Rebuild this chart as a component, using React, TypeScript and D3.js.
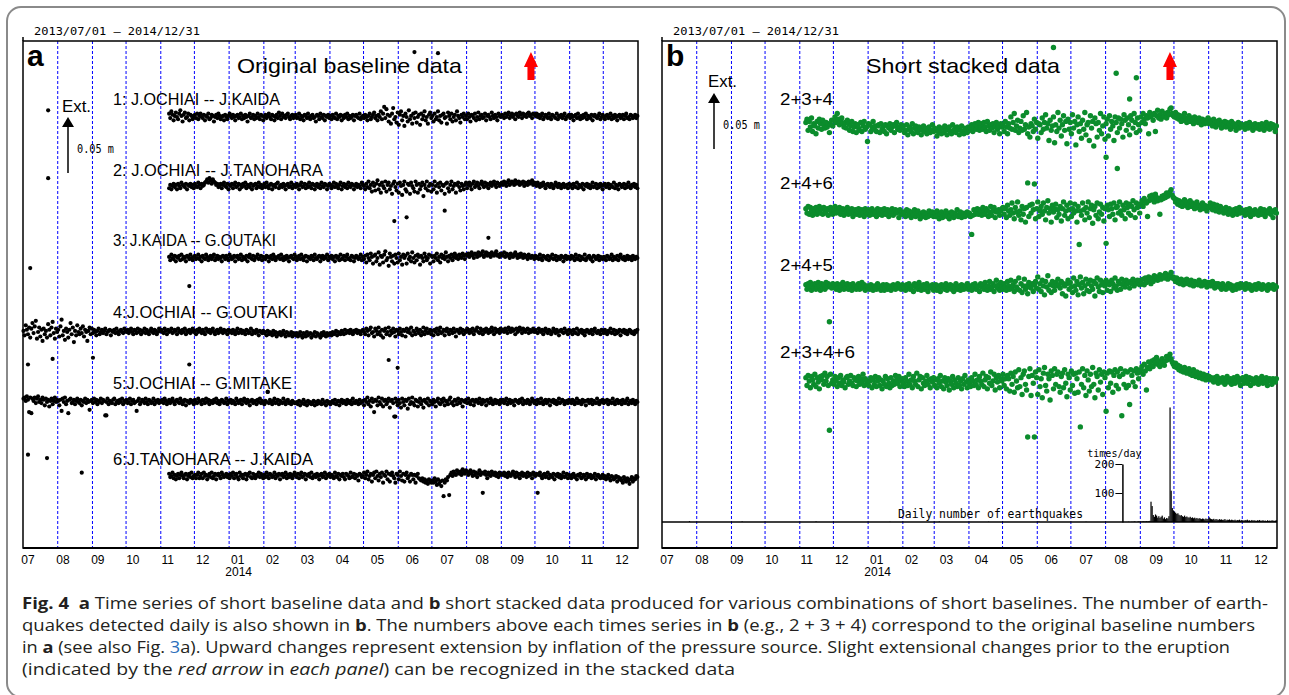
import React, { useEffect, useRef } from 'react';
import * as d3 from 'd3';

const parse = d3.utcParse('%Y-%m-%d');

// time span of both panels and the eruption day (red arrows)
const periodStart = '2013-07-01';
const periodEnd = '2015-01-01';
const eruptionDay = '2014-09-27';

const monthLabels = ['07', '08', '09', '10', '11', '12', '01', '02', '03', '04', '05', '06', '07', '08', '09', '10', '11', '12'];
const yearLabel = '2014';

// panel a: original baselines, daily values in mm, one row per calendar month
const baselineNames = [
  '1: J.OCHIAI -- J.KAIDA',
  '2: J.OCHIAI -- J.TANOHARA',
  '3: J.KAIDA -- G.OUTAKI',
  '4:J.OCHIAI -- G.OUTAKI',
  '5:J.OCHIAI -- G.MITAKE',
  '6:J.TANOHARA -- J.KAIDA',
];
const baselineStarts = ['2013-11-08', '2013-11-08', '2013-11-08', '2013-07-01', '2013-07-01', '2013-11-08'];

const s1 = [
  [3,-1,5,2,-3,1,4,0,-2,3,6,1,-4,2,4,-1,0,3,-3,2,1,-2,0],
  [2,-1,3,-2,1,3,0,-1,2,-3,1,0,3,-2,-1,2,1,-4,0,2,-1,3,1,-2,0,1,-3,2,0,-2,1],
  [3,1,-1,2,0,-3,1,2,-1,0,3,-2,1,-1,2,0,-4,1,3,-1,0,2,-2,1,-1,3,0,-2,2,1,-3],
  [0,2,-1,1,3,0,-2,2,1,-3,0,2,-1,4,1,-2,3,0,1,-1,2,3,0,-2,1,2,-1,0],
  [2,-1,0,3,-2,1,0,-3,2,1,-1,3,0,-2,1,2,-1,0,-4,2,1,-2,3,0,-1,2,-3,1,0,2,-1],
  [1,-2,2,0,-1,3,-2,1,0,2,-3,1,-1,2,0,3,-2,1,-1,0,2,-3,1,2,0,-1,3,-2,0,1],
  [-1,2,0,-3,1,3,-2,0,2,4,-1,1,-3,2,0,5,-2,3,9,-1,7,2,-4,1,-6,3,8,-2,0,-5,4],
  [-7,2,5,-3,1,-8,3,0,-4,6,-2,1,-6,3,-1,4,-5,0,2,-7,3,-2,1,5,-3,0,-6,2,4,-1],
  [1,-4,3,-2,0,5,-3,1,-5,2,3,-1,0,-6,4,1,-2,3,-4,0,2,-3,5,1,-1,-5,2,0,3,-2,1],
  [-2,3,0,-4,2,1,-1,3,-3,0,4,-2,1,2,-1,0,3,-3,1,2,0,-2,4,1,-1,2,0,-3,3,1,0],
  [2,1,-1,3,0,2,4,-1,1,3,0,2,-2,3,1,0,4,2,-1,3,1,2,0,3,4,1,2,-1,3,2],
  [1,3,0,2,-1,1,3,-2,0,2,1,-1,3,0,-2,2,1,0,-1,3,-2,1,0,2,-1,1,3,-2,0,1,2],
  [-1,2,0,-3,1,2,-1,3,0,-2,1,-1,2,0,3,-2,1,0,-1,2,-3,1,2,0,-1,1,3,-2,0,2],
  [0,-2,1,2,-1,0,3,-2,1,-1,2,0,-3,1,2,-1,0,2,-2,1,3,-1,0,-2,2,1,-1,0,2,-1,1],
];
const s2 = [
  [-2,1,-3,0,2,-1,1,-3,2,0,-2,3,1,0,-1,2,-3,1,0,2,-1,1,-2],
  [2,0,-1,3,1,-2,2,0,1,3,4,6,3,7,5,2,6,4,3,1,2,-1,0,2,-2,1,3,0,-1,2,-3],
  [1,0,2,-2,1,3,-1,0,2,-3,1,-1,2,0,3,-2,1,0,-1,2,-3,0,1,2,-2,0,3,-1,1,-2,0],
  [2,-1,3,0,-2,1,2,-3,0,1,-1,2,3,-2,0,1,-1,2,0,-3,1,2,-1,0,3,-2,1,0],
  [-1,2,0,-3,1,3,-1,0,2,-2,1,-1,3,0,-2,2,1,-3,0,2,-1,1,-2,3,0,-1,2,1,-3,0,2],
  [1,-2,0,3,-1,2,0,-2,1,3,-3,0,2,-1,1,-2,3,0,-1,2,1,-3,0,2,-1,1,0,-2,3,1],
  [0,-3,2,-1,4,-2,1,-5,3,0,-4,2,5,-3,1,-6,3,0,-2,4,-5,1,3,-3,0,-7,2,4,-1,-4,2],
  [-6,3,0,-8,1,4,-3,-5,2,1,-7,3,0,-2,-5,4,1,-6,2,-3,0,3,-9,1,-2,4,-4,0,2,-5],
  [1,-3,4,0,-6,2,-1,3,-4,1,0,-7,2,3,-2,-5,1,4,-3,0,2,-6,1,3,-1,-4,2,0,-3,1,3],
  [-2,1,3,0,-3,2,4,-1,1,3,0,-2,2,4,1,-1,3,0,2,-2,1,3,0,2,4,1,-1,3,2,0,2],
  [3,1,4,2,0,3,5,1,2,4,3,1,5,2,3,4,1,3,2,4,0,3,2,1,4,2,3,5,1,3],
  [2,0,3,1,-1,2,0,3,1,-2,1,2,0,-1,2,1,-2,0,3,1,-1,2,0,-2,1,2,-1,0,1,-2,2],
  [0,1,-2,2,0,-1,3,-2,1,0,-1,2,-3,1,0,2,-1,1,-2,0,3,-1,0,2,-2,1,-1,2,0,-3],
  [1,2,-1,0,2,-2,1,0,-1,3,-2,1,0,-3,2,1,-1,0,2,-2,1,-1,3,0,-2,1,0,2,-1,1,-2],
];
const s3 = [
  [1,-2,3,0,-1,2,-3,1,0,2,-2,3,-1,1,0,-3,2,1,-1,3,0,-2,1],
  [2,-1,0,3,-1,1,-3,2,0,-1,3,1,-2,0,2,-1,1,3,-2,0,2,-1,1,0,-3,2,1,-1,2,0,-2],
  [3,1,-1,0,2,-3,1,2,-1,0,3,-2,1,0,-1,2,-3,1,3,0,-1,2,-2,0,1,3,-1,0,2,-2,1],
  [0,-1,2,1,-3,0,2,-1,3,1,-2,0,1,2,-1,3,0,-2,1,-1,2,0,-3,1,2,0,-1,3],
  [1,-2,0,2,-1,3,0,-2,1,2,-3,1,0,-1,2,1,-2,3,0,-1,1,2,-3,0,2,-1,1,0,3,-2,1],
  [0,2,-1,1,-3,2,0,1,-2,3,-1,0,2,-2,1,3,-1,0,-2,2,1,-3,0,2,1,-1,0,3,-2,1],
  [-1,2,-4,3,0,-2,4,1,-5,2,3,-3,0,5,-6,2,1,-4,3,6,-2,0,-7,4,1,-3,2,-5,3,0,-4],
  [4,-2,1,-6,3,0,2,-5,4,-1,1,-3,5,0,-4,2,-2,3,1,-6,2,0,-3,4,1,-2,0,3,-5,2],
  [1,-3,2,0,4,-2,1,-4,3,0,2,-1,5,1,-3,2,0,3,-2,1,4,0,2,-1,3,1,0,4,2,-1,3],
  [2,4,1,3,5,2,0,4,3,1,5,2,4,3,6,1,3,5,2,4,3,1,5,3,2,4,6,2,3,1,4],
  [3,2,5,1,4,2,3,0,4,2,1,3,5,2,0,3,1,4,2,0,3,1,2,-1,3,1,0,2,1,-1],
  [2,0,1,-1,3,0,-2,2,1,0,-1,2,-2,1,0,3,-1,0,2,-2,1,0,-1,2,1,-3,0,2,-1,1,0],
  [-1,2,0,1,-2,3,0,-1,2,-2,1,0,-1,3,-2,0,1,2,-1,0,-3,2,1,-1,0,2,-2,1,0,-1],
  [1,0,-2,2,1,-1,0,3,-2,1,0,-1,2,-2,1,3,0,-1,1,-2,0,2,-1,1,0,-2,2,0,-1,1,0],
];
const s4 = [
  [1,-3,6,2,-2,4,-5,3,8,-1,5,10,-6,0,4,-4,2,-8,3,-2,1,-5,7,2,-3,4,9,-1,-6,3,0],
  [2,-4,5,11,-3,1,-7,3,0,-5,2,8,-2,4,-9,1,-3,6,0,-2,3,-1,5,-4,2,0,-8,1,4,-2,3],
  [-1,2,0,-3,1,3,-2,0,2,-1,1,3,-2,0,1,2,-3,1,0,2,-1,3,0,-2,1,2,0,-1,3,1],
  [0,2,-1,1,3,0,-2,2,1,-1,3,0,2,-2,1,0,3,-1,2,0,-2,1,3,0,-1,2,1,-2,0,3,1],
  [2,0,-1,3,1,-2,2,0,1,3,-1,0,2,1,-2,3,0,1,-1,2,0,3,-2,1,0,2,-1,1,3,0],
  [1,-2,2,0,3,1,-1,2,0,-2,3,1,0,2,-1,1,3,0,-2,1,2,-1,0,3,1,-1,2,0,1,-2,2],
  [0,1,-1,2,0,-2,1,3,-1,0,2,-1,1,0,-2,2,1,-1,0,3,-2,1,0,-1,2,0,-3,1,0,-1,1],
  [-1,0,-3,1,-2,0,-1,-3,1,-2,0,-4,-1,-2,0,-3,-1,1,-2,-4,0,-1,-3,-2,0,-4,-1,-2],
  [-3,-1,-4,-2,0,-3,-5,-1,-2,-4,0,-3,-2,-1,-5,-2,-3,0,-4,-1,-2,-3,-5,-1,-3,0,-2,-4,-1,-3,-2],
  [-1,-3,0,-2,-1,1,-3,0,-1,-2,1,0,-2,2,-1,0,1,-1,2,0,-2,1,0,2,-1,1,0,-2,1,2],
  [0,-2,3,1,-3,2,4,-1,0,-4,3,1,-2,4,0,-3,2,-5,1,3,-2,0,4,-3,1,-1,3,0,-4,2,1],
  [-2,3,0,-3,2,1,-4,3,0,2,-1,4,-3,1,0,-2,3,1,-1,2,-3,0,4,-2,1,3,-1,0,2,-2],
  [1,-3,2,0,3,-2,1,4,-1,0,2,-3,1,3,0,-2,2,1,-1,3,0,-4,2,1,-1,3,0,2,-2,1,0],
  [3,1,-1,2,0,3,-2,1,2,4,0,-1,3,1,-2,2,0,3,1,-1,2,0,4,1,-2,3,0,1,2,-1,3],
  [1,2,0,3,1,-1,4,2,0,3,1,2,-2,3,0,1,4,2,-1,3,1,0,2,3,-1,2,0,1,3,0],
  [2,0,-1,3,1,0,2,-2,1,3,0,-1,2,1,-2,0,3,1,-1,2,0,-3,1,2,0,-1,3,0,1,-2,2],
  [0,1,-2,2,0,-1,3,-2,1,0,2,-1,1,-3,0,2,1,-1,0,2,-2,1,3,0,-1,1,0,-2,2,1],
  [-1,2,0,-2,1,0,3,-1,0,2,-2,1,-1,0,2,-3,1,0,2,-1,1,-2,0,2,1,-1,0,-2,1,0,2],
];
const s5 = [
  [3,4,1,5,2,-9,4,-10,3,1,4,-1,3,5,0,2,-1,4,2,-3,3,0,2,-4,1,3,-2,1,4,0,2],
  [1,-3,2,-8,3,0,4,-2,1,-10,2,3,-1,0,2,-2,1,3,0,-1,2,-3,1,0,3,-1,2,0,-7,1,2],
  [-1,3,0,2,-2,1,0,3,-1,2,1,-12,0,3,-2,1,0,-1,2,3,-2,0,1,-1,2,0,3,-2,1,0],
  [2,-1,0,3,-2,1,2,-1,0,-8,1,3,-2,0,2,1,-1,3,0,-2,2,1,-1,0,3,-2,1,0,2,-1,1],
  [0,2,-1,3,1,-2,0,2,-1,1,3,0,-2,1,2,0,-1,3,1,-2,0,2,-3,1,0,-1,2,0,1,-2],
  [2,0,-1,3,1,0,-2,2,1,-1,3,0,2,-2,1,0,-1,2,0,3,-1,1,-2,0,2,1,-1,0,3,-2,1],
  [0,2,-1,1,0,-2,3,1,-1,0,2,-2,1,3,0,-1,2,0,-3,1,2,-1,0,1,-2,2,0,3,-1,1,0],
  [-2,1,0,9,-1,2,0,-2,1,3,-1,0,2,-2,1,0,-1,3,0,-2,1,2,-1,0,-2,1,0,-1],
  [-1,0,-2,1,-3,0,-1,2,-2,0,-3,1,-1,0,-2,-1,1,-3,0,-2,1,-1,0,-2,2,-1,0,-3,1,-1,0],
  [-2,0,1,-1,2,-2,0,1,-3,0,2,-1,1,0,-2,2,0,-1,1,-2,3,0,-1,1,0,-2,2,-1,0,1],
  [-3,2,0,4,-2,1,-4,3,0,-9,2,1,-3,4,0,-2,3,-4,1,2,-2,0,3,-5,1,2,-1,-13,3,0,-3],
  [2,-1,-5,3,0,-3,2,1,-6,3,-2,0,4,-1,-3,2,1,-4,0,3,-2,1,-5,2,0,-1,3,-3,1,0],
  [-2,2,0,-4,1,3,-1,-2,2,0,3,-3,1,0,-2,2,4,-1,0,-3,2,1,-2,3,0,-1,2,-4,1,0,2],
  [-1,3,0,-2,1,2,-3,0,2,1,-1,3,0,-2,2,0,1,-3,2,0,-1,3,1,-2,0,2,-1,1,0,-2,2],
  [0,2,-1,1,3,-2,0,2,-1,1,0,-3,2,1,0,-1,2,0,3,-2,1,0,-1,2,1,-2,0,3,1,-1],
  [1,-2,2,0,-1,3,0,-2,1,2,-1,0,2,-3,1,0,2,-1,1,-2,0,3,-1,0,2,1,-2,0,1,-1,2],
  [0,-1,2,1,-2,0,3,-1,1,0,-2,2,0,1,-3,1,2,-1,0,2,-2,1,0,-1,3,0,-2,1,0,2],
  [-1,1,0,2,-2,1,0,-1,3,0,-2,1,2,-1,0,1,-2,2,0,-1,1,3,-2,0,1,-1,2,0,-2,1,0],
];
const s6 = [
  [2,-1,0,3,-2,1,-3,0,2,-2,1,3,0,-2,1,2,-3,0,2,-1,3,-2,0],
  [1,-2,1,3,-2,0,2,-2,3,0,1,-3,0,2,-1,3,-2,0,2,-3,1,2,0,-2,3,1,-1,0,2,-1,1],
  [-2,2,0,3,-2,1,2,-1,-3,3,0,1,-2,1,2,-3,0,2,3,-1,-2,2,0,-2,1,0,3,-1,2,0,-2],
  [1,-1,3,0,-2,2,1,-1,0,3,-2,1,0,2,-3,1,2,-1,0,3,-2,1,-1,2,0,-2,1,3],
  [0,-1,2,-2,1,3,-1,0,2,-3,1,0,2,-1,3,-2,0,1,-1,2,0,-3,1,2,-1,0,3,-2,1,0,2],
  [-1,1,0,-2,3,0,-1,2,-3,1,0,2,-1,-3,2,1,0,-2,3,-1,0,2,-2,1,0,-4,2,1,-1,0],
  [3,-2,1,4,-3,0,2,-5,1,3,-2,4,0,-4,2,-1,3,-6,1,0,4,-3,2,-5,1,3,0,-2,-6,2,1],
  [-3,4,0,-4,2,-5,1,3,-2,0,-5,2,1,-3,1,-6,0,2,-2,-3,-4,-2,-5,-3,-6,-4,-7,-3,-5,-6],
  [-4,-6,-2,-5,-8,-3,-7,-5,-9,-4,-18,-6,-3,-4,-1,-17,1,3,0,4,2,1,5,3,2,4,1,6,3,2,5],
  [4,1,3,5,2,0,4,1,3,-1,2,5,1,3,-15,2,4,1,-2,3,1,0,4,2,1,3,0,2,-1,3,1],
  [2,1,3,0,2,-1,3,1,0,2,4,1,-1,3,0,2,-2,1,3,0,2,1,-1,3,0,2,1,-2,3,1],
  [0,2,-15,1,3,0,-2,1,2,-1,0,3,-2,1,0,-1,2,-3,1,0,2,-1,1,-2,0,3,-1,0,2,-2,1],
  [0,-2,1,2,-1,0,-3,1,0,2,-2,-1,1,0,-3,2,-1,0,1,-2,0,-1,2,-3,0,1,-1,-2,0,1],
  [-2,0,-3,-1,1,-2,-4,0,-1,-3,-2,0,-5,-1,-3,-2,-4,-6,-1,-3,-5,-2,-4,-7,-3,-1,-5,-2,-3,0,-1],
];
const baselineValues = [s1, s2, s3, s4, s5, s6];
// isolated days outside the main run: [date, mm]
const baselineExtra: [string, number][][] = [
  [['2013-07-23', 6], ['2014-06-15', 58], ['2014-07-06', 57]],
  [['2013-07-23', 7], ['2014-06-08', -28], ['2014-07-12', -22]],
  [['2013-07-07', -9], ['2014-05-28', 33], ['2014-08-20', 18]],
  [['2013-07-05', -29], ['2013-07-27', -24], ['2013-09-01', -23], ['2013-11-26', -29], ['2013-11-26', 41], ['2014-05-23', -25], ['2014-05-31', -32]],
  [['2013-09-13', -12], ['2014-02-04', 9], ['2014-05-29', -13]],
  [['2013-07-05', 19], ['2013-07-22', 16], ['2013-08-22', 3]],
];

// panel b: stacked series, daily mm, one row per month
const stackNames = ['2+3+4', '2+4+6', '2+4+5', '2+3+4+6'];
const stackStart = '2013-11-06';
const b1 = [
  [4,7,-3,5,0,8,-4,3,1,-6,5,-1,7,3,-2,6,2,-1,4,0,3,-5,2,6,1],
  [6,9,4,12,7,2,5,8,3,0,4,-1,6,3,-3,1,5,-4,0,3,-5,2,-1,-3,4,-4,1,5,-2,0,-13],
  [3,2,-4,0,5,-2,1,-4,1,2,-5,3,-2,0,-4,2,-6,1,-1,3,-3,0,2,-5,1,4,-2,0,-3,2,-1],
  [1,-5,-3,2,-7,-2,0,-4,3,-6,-1,1,-3,-5,0,-2,-7,-3,1,-4,-1,-6,-2,0,-5,-3,2,-4],
  [-1,-3,-8,-4,0,-2,-6,-1,-5,1,-3,-7,-2,0,-4,-6,2,-3,-1,-5,0,-2,-7,-3,1,-4,-6,-1,-2,-5,0],
  [-3,-1,2,-4,0,3,-2,1,4,-3,0,3,-2,4,0,-4,5,1,-3,2,-1,3,-5,0,4,-2,1,-6,3,0],
  [2,-4,5,0,-6,3,-1,9,-2,4,12,-3,1,6,-5,-1,5,-3,10,-2,2,13,-6,0,-9,3,1,-4,7,-2,4],
  [-10,3,2,-5,8,-2,4,11,-1,3,-12,6,-3,1,9,-14,2,-4,13,-1,6,-8,2,10,-3,5,-15,7,-2,4],
  [-6,11,-1,5,-16,2,9,-4,3,-10,6,-2,13,-7,2,4,-12,10,-1,5,-17,8,3,-9,4,-3,12,-6,1,9,-11],
  [3,7,-8,10,-2,5,1,-12,9,4,-5,8,-1,7,3,-9,11,6,-3,8,2,-7,10,6,-1,12,4,-5,8,2,-3],
  [9,4,12,7,3,10,8,-6,13,9,11,6,12,-4,10,15,8,11,7,14,9,10,12,8,13,11,16,17,12,10],
  [9,13,8,11,7,10,5,9,6,12,8,4,7,10,5,8,6,3,9,5,7,4,8,6,2,7,5,3,6,4,8],
  [3,6,4,1,7,3,0,5,2,6,3,-1,4,2,5,0,4,1,3,-2,5,1,3,0,-3,2,4,-1,3,1],
  [2,0,-2,3,1,-1,4,0,2,-3,1,3,-1,0,2,-2,1,3,0,-3,2,4,-1,1,-2,3,0,2,-1,-4,1],
];
const b2 = [
  [3,-1,5,-2,4,1,-3,3,0,4,-2,1,5,-1,3,-2,4,1,-1,3,-3,2,4,0,-2],
  [2,5,-1,3,0,4,-2,1,3,-3,2,0,4,-2,1,-1,3,-4,0,2,-2,1,3,-3,0,2,-1,-4,3,0,-2],
  [2,-3,0,3,-2,1,-1,-4,3,0,-2,2,-3,0,3,-2,-1,2,-4,1,-2,3,-3,0,2,-1,1,-5,2,-2,0],
  [-2,0,-4,2,-3,1,-2,-5,0,-3,2,-4,-1,1,-3,-6,-1,-4,0,-3,-5,-1,-4,1,-3,-2,0,-4],
  [-1,-4,1,-3,-6,-2,0,-5,-2,-3,1,-4,-1,-6,-3,0,-2,-5,-1,-3,2,-4,-2,0,-5,-3,-1,-4,-2,0,-3],
  [-1,-4,-20,-3,2,-2,0,3,-2,2,0,-3,4,0,-2,3,1,-4,0,5,-3,1,4,-5,0,1,2,-3,1,3],
  [4,-2,3,-5,6,1,-3,2,8,-1,-6,4,0,9,-3,1,-7,5,-2,3,-9,4,26,-4,6,-1,7,2,25,-6,3],
  [9,-4,1,5,-2,8,1,-7,4,10,-1,3,-9,6,0,3,7,-5,2,-2,5,-8,3,9,-3,1,6,-6,2,8],
  [-4,3,-1,7,1,-9,5,-29,1,-3,8,2,-7,4,-1,9,-5,3,6,-10,2,5,-3,8,-6,0,7,-2,4,-8,3],
  [-28,6,2,-4,7,3,-2,8,-7,4,5,-1,9,1,-3,6,2,-6,8,4,-1,7,-3,5,10,2,-5,8,4,6,-1],
  [7,10,5,12,9,8,-4,10,14,11,15,12,9,16,13,10,12,-2,11,14,12,15,13,17,14,16,18,20,15,13],
  [12,9,11,7,10,6,9,5,8,11,6,9,4,7,10,5,8,6,3,7,9,4,6,2,5,8,3,6,4,1,5],
  [4,8,5,2,7,4,1,6,3,0,5,2,3,-1,2,4,1,-2,3,0,1,-3,2,0,3,-2,1,4,-1,2],
  [1,-1,-3,2,0,-2,3,-4,0,1,-2,2,-1,0,-3,1,3,-2,0,2,-4,1,-1,0,3,-2,1,-5,0,2,-1],
];
const b3 = [
  [2,-2,3,0,4,-3,1,-1,3,-2,0,4,1,-3,3,-1,2,-2,4,0,3,-31,1,-1,3],
  [0,2,-2,3,-1,-3,2,0,4,-2,1,-1,3,-2,0,2,-3,3,0,1,-2,0,3,-2,1,4,-1,2,-3,0,1],
  [-1,-2,2,0,-3,1,-1,-2,3,0,1,-3,0,2,-3,-1,2,-2,0,1,-3,-1,2,0,-2,1,3,-1,0,-2,2],
  [1,-1,-3,2,0,3,-2,0,1,-4,3,0,2,-2,4,0,-3,1,2,-2,0,3,-4,1,0,-1,2,-3],
  [0,2,-3,1,-1,-4,2,0,1,-2,3,-3,0,-1,2,-2,1,-4,0,3,-2,-1,1,-3,2,0,-2,1,-1,3,-2],
  [1,-1,-3,2,0,3,-2,0,1,-4,3,0,2,-2,4,0,-3,1,5,-2,0,3,-4,1,6,-1,2,-3,4,0],
  [-2,3,0,-3,5,1,-2,6,-1,2,-4,5,0,-2,8,-3,3,-5,1,7,-2,1,-6,4,0,-1,3,-4,2,5,-1],
  [9,-2,3,-4,6,1,-7,5,0,10,-3,2,-5,5,1,-3,4,1,7,2,-1,5,-6,3,1,-8,3,6,-2,4],
  [0,-5,8,1,-3,5,-7,2,9,-1,4,-6,1,7,-3,3,-4,6,1,-2,5,-8,3,8,0,-4,6,2,-5,4,1],
  [6,-3,4,2,-4,6,3,-1,8,1,-3,5,3,-2,7,2,5,0,6,3,4,-1,5,3,7,1,5,3,6,4,2],
  [6,3,7,2,8,4,6,9,7,3,8,5,10,7,9,6,8,11,7,9,10,8,12,9,7,10,11,13,8,9],
  [7,5,8,4,6,3,7,5,2,6,4,7,3,5,2,6,4,1,5,3,4,2,6,3,1,4,2,5,3,0,4],
  [2,4,1,5,2,-1,3,1,3,0,2,-2,3,0,1,-2,0,3,-1,2,0,-3,1,0,-2,2,1,-1,3,0],
  [2,0,-2,3,0,-1,2,-1,-3,1,0,2,-2,1,3,-1,0,-2,2,1,-1,0,-3,2,1,-1,0,2,-2,1,0],
];
const b4 = [
  [3,-4,5,0,-6,4,1,-3,6,-5,3,-1,-7,4,1,5,-3,7,0,4,-4,-44,6,-2,1],
  [-3,4,0,-5,3,-2,5,-4,1,-1,-6,3,4,-3,0,5,-2,-4,3,1,-5,0,4,-3,2,-1,6,-4,2,0,-3],
  [-4,0,3,-6,1,-3,4,-5,0,3,-4,1,-7,0,-3,4,-5,2,-2,-6,3,-4,0,-3,5,1,-2,4,-5,0,2],
  [-2,-5,3,0,-4,6,-3,1,-6,4,0,-3,7,-5,1,4,-7,3,-2,-4,0,5,-3,1,-6,2,-1,3],
  [-4,1,-6,2,-2,5,-5,0,-7,3,-1,-4,2,-8,0,-3,4,-6,1,-2,-5,3,-4,0,-7,2,-3,5,-1,-6,1],
  [-2,-5,3,0,-4,6,-3,1,-6,4,0,-3,7,-5,1,4,-7,3,-2,8,-4,0,6,-8,3,-1,5,-6,2,0],
  [6,-4,2,-7,5,2,-9,7,-3,4,-10,8,0,-6,10,-5,3,-12,6,9,-3,-8,-50,4,11,-13,5,-2,-50,8,3],
  [-12,10,-5,2,-15,7,12,-4,-9,6,2,-17,9,5,-7,11,-3,6,8,-5,-10,4,7,-6,10,-2,-14,6,3,-8],
  [9,-4,6,-11,7,2,-10,8,-41,-3,11,-6,5,-13,9,1,-9,6,-5,12,-3,-15,7,4,-8,10,-1,6,-12,8,3],
  [-27,7,-6,9,-2,8,-10,5,10,-4,8,-7,4,11,-31,6,-3,9,-6,8,-4,-21,10,5,-1,9,-5,11,7,2,8],
  [10,13,6,15,9,-8,12,17,11,14,18,13,19,16,21,15,18,13,16,20,17,14,18,22,19,21,24,20,17,15],
  [13,16,12,14,10,13,9,11,8,12,10,7,9,11,6,8,5,10,7,4,8,6,3,7,5,2,6,4,1,5,3],
  [4,1,3,2,-1,3,1,4,-2,2,0,-1,3,1,-3,2,4,-1,0,2,-3,1,3,-2,0,4,-1,2,-4,1],
  [3,-2,1,4,-2,0,3,-4,2,0,-2,1,3,-1,-3,2,0,4,-2,1,-1,3,-4,0,2,1,-3,2,0,-1,2],
];
const stackValues = [b1, b2, b3, b4];
const stackExtra: [string, number][][] = [
  [['2014-06-15', 71], ['2014-08-10', 48], ['2014-08-28', 44], ['2014-08-22', 25], ['2014-08-01', -27], ['2014-08-11', -37]],
  [],
  [],
  [],
];

// daily number of earthquakes
const quakeEarly: [string, number][] = [
  ['2013-07-25', 3], ['2013-09-10', 2], ['2013-11-15', 2], ['2014-01-20', 1],
  ['2014-03-05', 2], ['2014-04-18', 1], ['2014-06-02', 2], ['2014-07-14', 1],
];
const quakeStart = '2014-08-20';
const quakeCounts = [
  0, 1, 0, 0, 1, 0, 2, 1, 0, 1, 2, 1,
  1, 2, 3, 2, 2, 3, 2, 3, 4,
  70, 55, 24, 18, 26, 22, 15, 20, 14, 18, 22, 12, 16, 10, 14, 12, 20,
  395, 108, 48, 40,
  36, 32, 28, 30, 25, 22, 24, 20, 18, 22, 17, 19, 16, 15, 18, 14, 16, 13, 15, 12, 14, 11, 13, 12, 10, 12, 11, 9, 12, 10, 11,
  16, 12, 10, 9, 11, 8, 10, 9, 7, 10, 8, 9, 7, 8, 10, 6, 8, 7, 9, 6, 8, 7, 6, 8, 5, 7, 6, 8, 5, 7,
  6, 5, 7, 6, 8, 5, 6, 4, 7, 5, 6, 5, 4, 6, 5, 7, 4, 5, 6, 4, 5, 3, 6, 4, 5, 4, 6, 5, 4, 5, 6,
];
const quakeTicks = [100, 200];

const MONO = '"DejaVu Sans Mono", monospace';
const SANS = '"Liberation Sans", Arial, sans-serif';
const CAP = '"Open Sans", "Noto Sans", sans-serif';

type Pt = { date: Date; v: number };

// month rows: the first row begins on the start day, later rows on the 1st of their month
const toPoints = (start: string, months: number[][], extra: [string, number][]): Pt[] => {
  const s = parse(start)!;
  const pts: Pt[] = [];
  months.forEach((vals, m) => {
    const base = m === 0 ? s : d3.utcMonth.offset(d3.utcMonth.floor(s), m);
    vals.forEach((v, j) => pts.push({ date: d3.utcDay.offset(base, j), v }));
  });
  extra.forEach(([d, v]) => pts.push({ date: parse(d)!, v }));
  return pts;
};

const App = () => {
  const svgRef = useRef<SVGSVGElement>(null);

  useEffect(() => {
    const svg = d3.select(svgRef.current);
    svg.selectAll('*').remove();

    const top = 41;
    const bottom = 548;
    const pw = 615;
    const mm = d3.scaleLinear().domain([0, 50]).range([0, -56]);

    svg.append('rect').attr('width', 1289).attr('height', 695).attr('fill', '#fff');

    // outer figure box
    svg.append('rect')
      .attr('x', 7).attr('y', 7).attr('width', 1278).attr('height', 690)
      .attr('rx', 14).attr('fill', 'none').attr('stroke', '#8a8a8a').attr('stroke-width', 2);

    const drawPanel = (left: number, letter: string, title: string, titleW: number) => {
      const g = svg.append('g');
      const x = d3.scaleUtc().domain([parse(periodStart)!, parse(periodEnd)!]).range([left, left + pw]);

      // month grid
      g.selectAll('line.grid')
        .data(d3.utcMonth.range(parse('2013-08-01')!, parse(periodEnd)!))
        .enter().append('line')
        .attr('x1', d => x(d)).attr('x2', d => x(d))
        .attr('y1', top).attr('y2', bottom)
        .attr('stroke', '#0000ff').attr('stroke-width', 1).attr('stroke-dasharray', '3,2');

      // frame
      g.append('rect')
        .attr('x', left).attr('y', top).attr('width', pw).attr('height', bottom - top)
        .attr('fill', 'none').attr('stroke', '#000').attr('stroke-width', 1.5);
      g.append('line').attr('x1', left).attr('x2', left).attr('y1', top - 4).attr('y2', top).attr('stroke', '#000').attr('stroke-width', 1.5);
      g.append('line').attr('x1', left).attr('x2', left + pw).attr('y1', bottom).attr('y2', bottom).attr('stroke', '#000').attr('stroke-width', 2);

      // period header
      g.append('text').attr('x', left + 11).attr('y', 35)
        .attr('font-family', MONO).attr('font-size', 11).attr('textLength', 166).attr('lengthAdjust', 'spacingAndGlyphs')
        .text(`${periodStart.replace(/-/g, '/')} — 2014/12/31`);

      // month labels
      const lx = d3.scalePoint<number>().domain(d3.range(monthLabels.length)).range([left + 5, left + pw - 16]);
      g.selectAll('text.month')
        .data(monthLabels)
        .enter().append('text')
        .attr('x', (d, i) => lx(i)!).attr('y', 564)
        .attr('text-anchor', 'middle').attr('font-family', SANS).attr('font-size', 12)
        .text(d => d);
      g.append('text').attr('x', lx(6)! + 1).attr('y', 576)
        .attr('text-anchor', 'middle').attr('font-family', SANS).attr('font-size', 12)
        .text(yearLabel);

      g.append('text').attr('x', left + 4).attr('y', 66)
        .attr('font-family', SANS).attr('font-weight', 'bold').attr('font-size', 30).text(letter);
      g.append('text').attr('x', left + (letter === 'a' ? 214 : 204)).attr('y', 73)
        .attr('font-family', SANS).attr('font-size', 21)
        .attr('textLength', titleW).attr('lengthAdjust', 'spacingAndGlyphs').text(title);

      // red eruption arrow
      const cx = x(parse(eruptionDay)!) + 0.5;
      g.append('polygon')
        .attr('points', [[cx, 52], [cx + 7, 67], [cx + 3.5, 67], [cx + 3.5, 80], [cx - 3.5, 80], [cx - 3.5, 67], [cx - 7, 67]].map(p => p.join(',')).join(' '))
        .attr('fill', '#ff0000');

      return { g, x };
    };

    const drawScaleArrow = (g: any, ax: number, base: number, extY: number) => {
      const tip = base + mm(50);
      g.append('line').attr('x1', ax).attr('x2', ax).attr('y1', base).attr('y2', tip + 8)
        .attr('stroke', '#000').attr('stroke-width', 1.5);
      g.append('polygon').attr('points', `${ax},${tip} ${ax + 6},${tip + 10} ${ax - 6},${tip + 10}`).attr('fill', '#000');
      g.append('text').attr('x', ax - 6).attr('y', extY)
        .attr('font-family', SANS).attr('font-size', 16).attr('textLength', 29).attr('lengthAdjust', 'spacingAndGlyphs').text('Ext.');
      g.append('text').attr('x', ax + 9).attr('y', base - 20)
        .attr('font-family', MONO).attr('font-size', 12.5).attr('fill', '#000')
        .attr('textLength', 37).attr('lengthAdjust', 'spacingAndGlyphs').text('0.05 m');
    };

    // ---------- panel a ----------
    const A = drawPanel(23, 'a', 'Original baseline data', 225);
    const rowsA = [117, 186, 258, 332, 402, 476];
    const labelYA = [105, 176, 246, 318, 389, 465];
    const labelWA = [167, 210, 163, 180, 179, 200];
    drawScaleArrow(A.g, 68, 173, 112);
    baselineNames.forEach((name, k) => {
      A.g.append('text').attr('x', 113).attr('y', labelYA[k])
        .attr('font-family', SANS).attr('font-size', 16.5)
        .attr('textLength', labelWA[k]).attr('lengthAdjust', 'spacingAndGlyphs').text(name);
      const pts = toPoints(baselineStarts[k], baselineValues[k], baselineExtra[k]);
      A.g.append('g').selectAll('circle')
        .data(pts).enter().append('circle')
        .attr('cx', d => A.x(d.date) + 0.5)
        .attr('cy', d => rowsA[k] + mm(d.v))
        .attr('r', 2.1).attr('fill', '#000');
    });

    // ---------- panel b ----------
    const B = drawPanel(662, 'b', 'Short stacked data', 194);
    const rowsB = [127, 212, 287, 381];
    const labelYB = [105, 189, 271, 358];
    const labelWB = [53, 53, 53, 75];
    drawScaleArrow(B.g, 714, 149, 87);
    stackNames.forEach((name, k) => {
      B.g.append('text').attr('x', 780).attr('y', labelYB[k])
        .attr('font-family', SANS).attr('font-size', 17)
        .attr('textLength', labelWB[k]).attr('lengthAdjust', 'spacingAndGlyphs').text(name);
      const pts = toPoints(stackStart, stackValues[k], stackExtra[k]);
      B.g.append('g').selectAll('circle')
        .data(pts).enter().append('circle')
        .attr('cx', d => B.x(d.date) + 0.5)
        .attr('cy', d => rowsB[k] + mm(d.v))
        .attr('r', 2.7).attr('fill', '#0b8c2c');
    });

    // earthquakes histogram
    const yq = d3.scaleLinear().domain([0, 200]).range([522, 464]);
    const qs = parse(quakeStart)!;
    const quakes = quakeCounts.map((c, i) => ({ date: d3.utcDay.offset(qs, i), c }))
      .concat(quakeEarly.map(([d, c]) => ({ date: parse(d)!, c })));
    B.g.append('g').selectAll('rect')
      .data(quakes).enter().append('rect')
      .attr('x', d => B.x(d.date))
      .attr('width', d => Math.max(1.2, B.x(d3.utcDay.offset(d.date, 1)) - B.x(d.date)))
      .attr('y', d => yq(d.c))
      .attr('height', d => yq(0) - yq(d.c))
      .attr('fill', '#000');
    B.g.append('line').attr('x1', 662).attr('x2', 662 + pw).attr('y1', yq(0)).attr('y2', yq(0))
      .attr('stroke', '#000').attr('stroke-width', 1.5);
    const axisX = B.x(parse('2014-08-16')!);
    const ax = B.g.append('g').attr('transform', `translate(${axisX},0)`)
      .call(d3.axisLeft(yq).tickValues(quakeTicks).tickSize(7).tickSizeOuter(0).tickFormat(d3.format('d')));
    ax.select('.domain').attr('stroke-width', 1.5);
    ax.selectAll('text').attr('font-family', MONO).attr('font-size', 11).attr('dx', '2');
    B.g.append('text').attr('x', axisX - 8).attr('y', 457).attr('text-anchor', 'middle')
      .attr('font-family', MONO).attr('font-size', 10).text('times/day');
    B.g.append('text').attr('x', 898).attr('y', 518)
      .attr('font-family', MONO).attr('font-size', 12.5)
      .attr('textLength', 185).attr('lengthAdjust', 'spacingAndGlyphs').text('Daily number of earthquakes');

    // ---------- caption ----------
    type Seg = [string, string?];
    const captionLines: Seg[][] = [
      [['Fig. 4', 'b'], ['  '], ['a', 'b'], [' Time series of short baseline data and '], ['b', 'b'], [' short stacked data produced for various combinations of short baselines. The number of earth-']],
      [['quakes detected daily is also shown in '], ['b', 'b'], ['. The numbers above each times series in '], ['b', 'b'], [' (e.g., 2 + 3 + 4) correspond to the original baseline numbers']],
      [['in '], ['a', 'b'], [' (see also Fig. '], ['3', 'link'], ['a). Upward changes represent extension by inflation of the pressure source. Slight extensional changes prior to the eruption']],
      [['(indicated by the '], ['red arrow', 'i'], [' in '], ['each panel', 'i'], [') can be recognized in the stacked data']],
    ];
    const captionW = [1246, 1233, 1208, 713];
    captionLines.forEach((segs, li) => {
      const t = svg.append('text')
        .attr('x', 22).attr('y', 609 + li * 22)
        .attr('font-family', CAP).attr('font-size', 16.5).attr('fill', '#231f20')
        .attr('textLength', captionW[li]).attr('lengthAdjust', 'spacingAndGlyphs')
        .style('white-space', 'pre');
      segs.forEach(([s, st]) => {
        const ts = t.append('tspan').text(s);
        if (st === 'b') ts.attr('font-weight', 'bold');
        if (st === 'i') ts.attr('font-style', 'italic');
        if (st === 'link') ts.attr('fill', '#2a6ebb');
      });
    });
  }, []);

  return (
    <svg ref={svgRef} width={1289} height={695} style={{ position: 'absolute', left: 0, top: 0 }} />
  );
};

export default App;
